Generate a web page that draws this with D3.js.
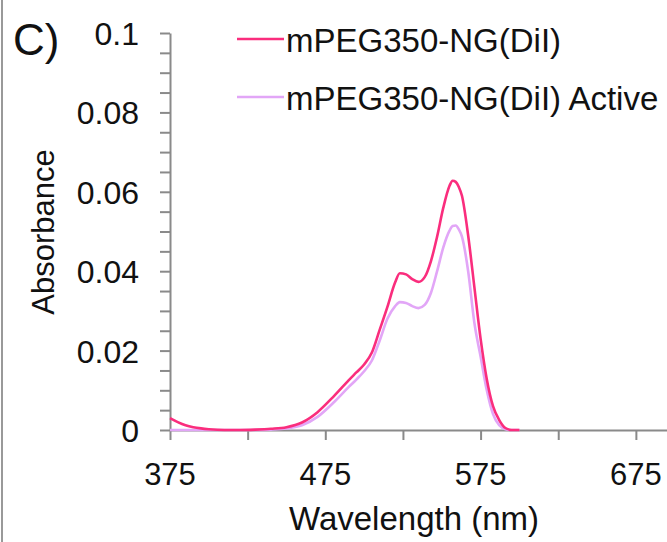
<!DOCTYPE html>
<html>
<head>
<meta charset="utf-8">
<script src="https://cdn.jsdelivr.net/npm/d3@7"></script>
<style>
  body { margin: 0; background: #fff; }
  text { font-family: "Liberation Sans", Arial, Helvetica, sans-serif; fill: #111; }
</style>
</head>
<body>
<script>
// Absorbance spectra, panel C

var w = 667;
var h = 542;

// wavelength (nm)
var wavelengths = [375, 380, 385, 390, 395, 400, 410, 420, 430, 440, 450, 460, 470, 480, 490, 495, 500, 505, 510, 515, 520, 523, 527, 531, 535, 539, 543, 547, 551, 555, 557, 559, 561, 563, 567, 571, 575, 579, 583, 587, 591, 595, 600];

// mPEG350-NG(DiI)
var absPlain = [0.0030, 0.0020, 0.0012, 0.0007, 0.0004, 0.0002, 0.0000, 0.0000, 0.0001, 0.0003, 0.0007, 0.0019, 0.0045, 0.0083, 0.0125, 0.0145, 0.0165, 0.0195, 0.0252, 0.0310, 0.0372, 0.0395, 0.0392, 0.0380, 0.0373, 0.0385, 0.0425, 0.0487, 0.0560, 0.0615, 0.0628, 0.0625, 0.0612, 0.0590, 0.0490, 0.0360, 0.0230, 0.0128, 0.0060, 0.0025, 0.0005, 0.0000, 0.0000];

// mPEG350-NG(DiI) Active
var absActive = [0.0000, 0.0000, 0.0000, 0.0000, 0.0000, 0.0000, 0.0000, 0.0000, 0.0000, 0.0001, 0.0004, 0.0012, 0.0033, 0.0068, 0.0108, 0.0127, 0.0148, 0.0175, 0.0225, 0.0280, 0.0312, 0.0322, 0.0320, 0.0312, 0.0307, 0.0315, 0.0345, 0.0400, 0.0460, 0.0502, 0.0514, 0.0515, 0.0505, 0.0487, 0.0400, 0.0270, 0.0185, 0.0100, 0.0040, 0.0012, 0.0002, 0.0000, 0.0000];

var seriesNames = ["mPEG350-NG(DiI)", "mPEG350-NG(DiI) Active"];
var seriesColors = ["#fa2d7d", "#e2a6f7"];

var xTicks = [375, 425, 475, 525, 575, 625, 675];
var xLabels = [375, 475, 575, 675];
var yTicks = [0, 0.02, 0.04, 0.06, 0.08, 0.1];
var yMinor = d3.range(0, 0.1001, 0.005);

var svg = d3.select("body")
            .append("svg")
            .attr("width", w)
            .attr("height", h);

// thin frame edge on the left of the scan
svg.append("line")
   .attr("x1", 2).attr("x2", 2)
   .attr("y1", 0).attr("y2", h)
   .attr("stroke", "#999")
   .attr("stroke-width", 2);

var x = d3.scaleLinear().domain([375, 700]).range([170, 674.7]);
var y = d3.scaleLinear().domain([0, 0.1]).range([430, 33]);

var axisColor = "#8a8a8a";

// y axis: minor ticks, then labels
var yAxis = svg.append("g")
   .attr("transform", "translate(170,0)")
   .call(d3.axisLeft(y).tickValues(yMinor).tickSize(10).tickSizeOuter(0).tickFormat(""));
yAxis.selectAll("path, line").attr("stroke", axisColor).attr("stroke-width", 2);

svg.selectAll("text.ylab")
   .data(yTicks)
   .enter()
   .append("text")
   .attr("class", "ylab")
   .attr("x", 139)
   .attr("y", function(d) { return y(d) + 12; })
   .attr("text-anchor", "end")
   .attr("font-size", "32px")
   .text(function(d) { return d === 0 ? "0" : String(+d.toFixed(2)); });

// x axis
var xAxis = svg.append("g")
   .attr("transform", "translate(0,430)")
   .call(d3.axisBottom(x).tickValues(xTicks).tickSize(10).tickSizeOuter(0).tickFormat(""));
xAxis.selectAll("path, line").attr("stroke", axisColor).attr("stroke-width", 2);

svg.selectAll("text.xlab")
   .data(xLabels)
   .enter()
   .append("text")
   .attr("class", "xlab")
   .attr("x", function(d) { return x(d); })
   .attr("y", 485)
   .attr("text-anchor", "middle")
   .attr("font-size", "31px")
   .text(function(d) { return d; });

// curves
var allSeries = [absActive, absPlain];
var allColors = [seriesColors[1], seriesColors[0]];

var line = d3.line()
   .x(function(d) { return x(d[0]); })
   .y(function(d) { return y(d[1]); })
   .curve(d3.curveMonotoneX);

svg.selectAll("path.curve")
   .data(allSeries)
   .enter()
   .append("path")
   .attr("class", "curve")
   .attr("d", function(vals) {
      return line(wavelengths.map(function(wl, i) { return [wl, vals[i]]; }));
   })
   .attr("fill", "none")
   .attr("stroke", function(d, i) { return allColors[i]; })
   .attr("stroke-width", 2.6);

// legend
var legY = [39, 97];
seriesNames.forEach(function(name, i) {
   svg.append("line")
      .attr("x1", 237).attr("x2", 284)
      .attr("y1", legY[i]).attr("y2", legY[i])
      .attr("stroke", seriesColors[i])
      .attr("stroke-width", 2.6);
   svg.append("text")
      .attr("x", 286)
      .attr("y", legY[i] + 13)
      .attr("font-size", "33px")
      .text(name);
});

// axis titles
svg.append("text")
   .attr("x", 414)
   .attr("y", 530)
   .attr("text-anchor", "middle")
   .attr("font-size", "33px")
   .text("Wavelength (nm)");

svg.append("text")
   .attr("transform", "translate(54,232) rotate(-90)")
   .attr("text-anchor", "middle")
   .attr("font-size", "31px")
   .text("Absorbance");

// panel letter
svg.append("text")
   .attr("x", 13)
   .attr("y", 55)
   .attr("font-size", "44px")
   .text("C)");
</script>
</body>
</html>
